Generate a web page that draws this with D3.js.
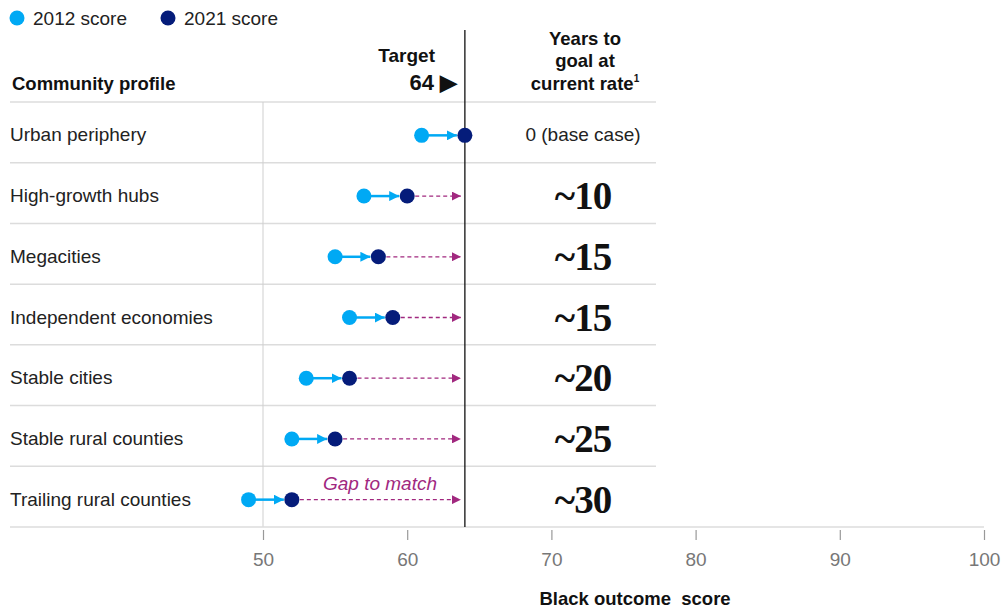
<!DOCTYPE html>
<html><head><meta charset="utf-8">
<script src="https://cdn.jsdelivr.net/npm/d3@7"></script>
<style>body{margin:0;background:#fff;}svg{display:block;font-family:"Liberation Sans",Arial,sans-serif;}</style>
</head><body><svg id="c" width="1001" height="610"></svg>
<script>
const categories = ["Urban periphery","High-growth hubs","Megacities","Independent economies","Stable cities","Stable rural counties","Trailing rural counties"];
const score2012 = [61,57,55,56,53,52,49];
const score2021 = [64,60,58,59,56,55,52];
const yearsToGoal = ["0 (base case)","~10","~15","~15","~20","~25","~30"];
const target = 64;
const xTicks = [50,60,70,80,90,100];

const c2012 = "#00a9f4", c2021 = "#051c7a", cGap = "#a1287f";
const svg = d3.select("#c");
const x = d3.scaleLinear().domain([50,100]).range([263,984]);
const y = d3.scaleBand().domain(categories).range([102,527]);

const defs = svg.append("defs");
defs.append("marker").attr("id","ab").attr("viewBox","0 0 10 10").attr("refX",10).attr("refY",5)
  .attr("markerWidth",4).attr("markerHeight",4).attr("orient","auto").attr("markerUnits","strokeWidth")
  .append("path").attr("d","M0,0L10,5L0,10Z").attr("fill",c2012);
defs.append("marker").attr("id","am").attr("viewBox","0 0 10 10").attr("refX",10).attr("refY",5)
  .attr("markerWidth",7).attr("markerHeight",7).attr("orient","auto").attr("markerUnits","strokeWidth")
  .append("path").attr("d","M0,0L10,5L0,10Z").attr("fill",cGap);

// legend
const leg = svg.append("g");
leg.append("circle").attr("cx",17).attr("cy",18).attr("r",7.5).attr("fill",c2012);
leg.append("text").attr("x",33).attr("y",25).attr("font-size",19).attr("fill","#222").text("2012 score");
leg.append("circle").attr("cx",168).attr("cy",18).attr("r",7.5).attr("fill",c2021);
leg.append("text").attr("x",184).attr("y",25).attr("font-size",19).attr("fill","#222").text("2021 score");

// headers
svg.append("text").attr("x",12).attr("y",90).attr("font-size",18.5).attr("font-weight","bold").attr("fill","#111").text("Community profile");
svg.append("text").attr("x",435).attr("y",62).attr("font-size",19).attr("font-weight","bold").attr("text-anchor","end").attr("fill","#111").text("Target");
svg.append("text").attr("x",457).attr("y",90).attr("font-size",22).attr("font-weight","bold").attr("text-anchor","end").attr("fill","#111").text("64 \u25B6");
const yh = svg.append("text").attr("font-size",18.5).attr("font-weight","bold").attr("text-anchor","middle").attr("fill","#111");
yh.append("tspan").attr("x",585).attr("y",45).text("Years to");
yh.append("tspan").attr("x",585).attr("y",67).text("goal at");
const t3 = yh.append("tspan").attr("x",585).attr("y",90).text("current rate");
t3.append("tspan").attr("font-size",10).attr("dy",-8).text("1");

// row separators
svg.append("g").selectAll("line").data(categories).join("line")
  .attr("x1",10).attr("x2",656).attr("y1",d=>y(d)).attr("y2",d=>y(d))
  .attr("stroke","#dcdcdc").attr("stroke-width",1.5);

// 50 gridline
svg.append("line").attr("x1",x(50)).attr("x2",x(50)).attr("y1",102).attr("y2",527).attr("stroke","#cfcfcf").attr("stroke-width",1);

// axis
svg.append("line").attr("x1",10).attr("x2",984).attr("y1",527).attr("y2",527).attr("stroke","#dcdcdc").attr("stroke-width",1.5);
const ax = svg.append("g").attr("transform","translate(0,528)")
  .call(d3.axisBottom(x).tickValues(xTicks).tickSize(0).tickPadding(0).tickFormat(d3.format("d")));
ax.select(".domain").remove();
ax.selectAll(".tick line").attr("y1",2).attr("y2",12).attr("stroke","#999").attr("stroke-width",1.2);
ax.selectAll(".tick text").attr("y",38).attr("dy",0).attr("font-size",19).attr("fill","#777").attr("font-family","'Liberation Sans',Arial,sans-serif");
svg.append("text").attr("x",635).attr("y",605).attr("text-anchor","middle").attr("font-size",18.5).attr("font-weight","bold").attr("fill","#111").attr("xml:space","preserve").text("Black outcome  score");

// target line
svg.append("line").attr("x1",x(target)).attr("x2",x(target)).attr("y1",30).attr("y2",527).attr("stroke","#111").attr("stroke-width",1.3);

// rows
const rows = svg.append("g").selectAll("g").data(categories).join("g")
  .attr("transform",d=>`translate(0,${y(d)+y.bandwidth()/2+3})`);
rows.append("text").attr("x",10).attr("y",6).attr("font-size",19).attr("fill","#222").text(d=>d);

rows.each(function(d,i){
  const g = d3.select(this);
  const a = x(score2012[i]), b = x(score2021[i]);
  if (score2021[i] < target) {
    g.append("line").attr("x1",b+8).attr("x2",x(target)-4).attr("y1",0).attr("y2",0)
      .attr("stroke",cGap).attr("stroke-width",1.3).attr("stroke-dasharray","4,3").attr("marker-end","url(#am)");
  }
  g.append("line").attr("x1",a+6).attr("x2",b-8).attr("y1",0).attr("y2",0)
    .attr("stroke",c2012).attr("stroke-width",2.5).attr("marker-end","url(#ab)");
  g.append("circle").attr("cx",a).attr("cy",0).attr("r",7.5).attr("fill",c2012);
  g.append("circle").attr("cx",b).attr("cy",0).attr("r",7.5).attr("fill",c2021);
  if (i === 0) {
    g.append("text").attr("x",583).attr("y",6).attr("text-anchor","middle").attr("font-size",19).attr("fill","#222").text(yearsToGoal[i]);
  } else {
    g.append("text").attr("x",583).attr("y",13).attr("text-anchor","middle").attr("font-size",39).attr("font-weight","bold")
      .attr("font-family","'Liberation Serif','Times New Roman',serif").attr("letter-spacing","-1").attr("fill","#111").text(yearsToGoal[i]);
  }
});

// gap label
svg.append("text").attr("x",380).attr("y",y(categories[6])+y.bandwidth()/2-7).attr("text-anchor","middle")
  .attr("font-size",19).attr("font-style","italic").attr("fill",cGap).text("Gap to match");
</script></body></html>
